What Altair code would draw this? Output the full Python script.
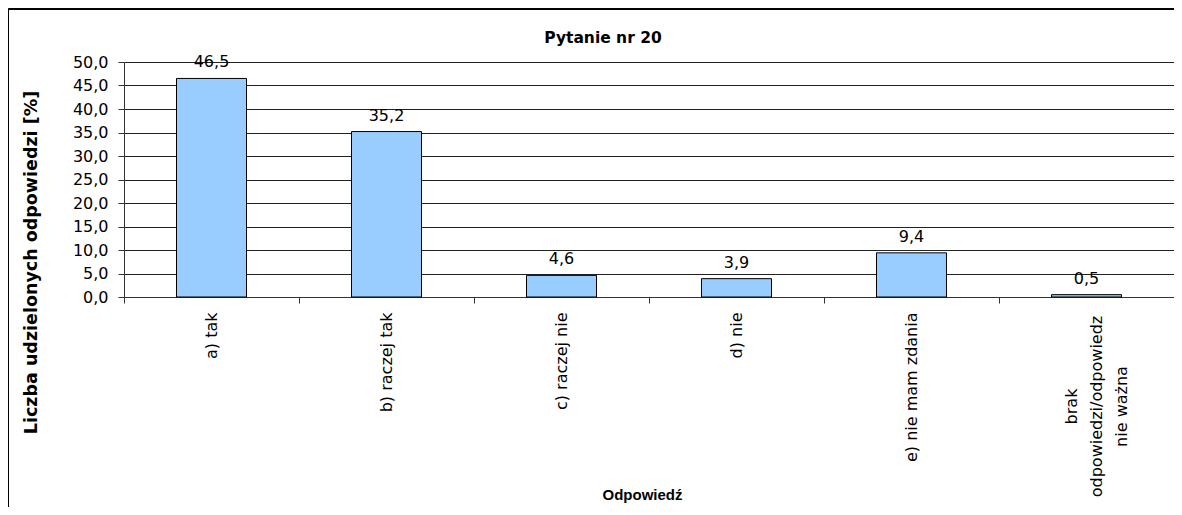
import altair as alt
import pandas as pd

categories = [
    "a) tak",
    "b) raczej tak",
    "c) raczej nie",
    "d) nie",
    "e) nie mam zdania",
    "brak\nodpowiedzi/odpowiedz\nnie ważna",
]
values = [46.5, 35.2, 4.6, 3.9, 9.4, 0.5]
y_ticks = [0, 5, 10, 15, 20, 25, 30, 35, 40, 45, 50]

df = pd.DataFrame({"odp": categories, "v": values})

W, H = 1050, 235
PAD_L, PAD_T, PAD_B = 116, 54, 210

is_last = "indexof(datum.label, 'brak') >= 0"

x_axis = alt.Axis(
    title="Odpowiedź",
    titleFont="Liberation Sans",
    titleFontSize=15,
    titleFontWeight="bold",
    titleColor="black",
    titleX=518,
    titleY=197,
    titleBaseline="middle",
    titleAlign="center",
    labelAngle=-90,
    labelFont="DejaVu Sans",
    labelFontSize=16,
    labelColor="black",
    labelLineHeight=25,
    labelExpr="split(datum.label, '\\n')",
    labelAlign={"condition": {"test": is_last, "value": "center"}, "value": "right"},
    labelPadding={"condition": {"test": is_last, "value": 103}, "value": 9},
    labelOffset={"condition": {"test": is_last, "value": -15}, "value": 0},
    labelBaseline="middle",
    tickBand="extent",
    tickSize=6,
    tickColor="#333",
    domainColor="#333",
    grid=False,
    labelLimit=0,
)

y_axis = alt.Axis(
    values=y_ticks,
    labelExpr="replace(format(datum.value, '.1f'), '.', ',')",
    title="Liczba udzielonych odpowiedzi [%]",
    titleFont="DejaVu Sans",
    titleFontSize=17.5,
    titleFontWeight="bold",
    titleColor="black",
    titleAngle=-90,
    titleX=-93,
    titleY=200,
    titleAlign="center",
    titleBaseline="middle",
    labelFont="DejaVu Sans",
    labelFontSize=16,
    labelColor="black",
    labelPadding=10,
    labelOverlap=False,
    tickSize=6,
    tickColor="#333",
    domainColor="#333",
    grid=True,
    gridColor="#222",
    gridWidth=1,
)

x_scale = alt.Scale(paddingInner=0, paddingOuter=0)
y_scale = alt.Scale(domain=[0, 50], nice=False)

x_enc = alt.X("odp:N", sort=categories, scale=x_scale, axis=x_axis)
y_enc = alt.Y("v:Q", scale=y_scale, axis=y_axis)

bars = alt.Chart(df).mark_bar(
    width=alt.RelativeBandSize(0.4),
    color="#99CCFF",
    stroke="black",
    strokeWidth=1,
).encode(x=x_enc, y=y_enc)

labels = alt.Chart(df).transform_calculate(
    lbl="replace(format(datum.v, '.1f'), '.', ',')"
).mark_text(
    font="DejaVu Sans",
    fontSize=16,
    color="black",
    baseline="alphabetic",
    dy=-11,
).encode(x=x_enc, y=y_enc, text="lbl:N")

border = alt.Chart(df).mark_rect(
    filled=False, stroke="black", strokeWidth=1
).encode(
    x=alt.value(-PAD_L + 0.5),
    x2=alt.value(W + 50),
    y=alt.value(-PAD_T + 1),
    y2=alt.value(700),
)

chart = alt.layer(bars, labels, border).properties(
    width=W,
    height=H,
    autosize=alt.AutoSizeParams(type="none"),
    padding={"left": PAD_L, "top": PAD_T, "right": 0, "bottom": PAD_B},
    title=alt.TitleParams(
        "Pytanie nr 20",
        font="DejaVu Sans",
        fontSize=15.5,
        fontWeight="bold",
        color="black",
        anchor="middle",
        frame="group",
        baseline="alphabetic",
        offset=0,
        dx=-46,
        dy=50,
    ),
).configure_view(stroke=None)

chart.save("out.html", embed_options={"renderer": "svg", "actions": False})
